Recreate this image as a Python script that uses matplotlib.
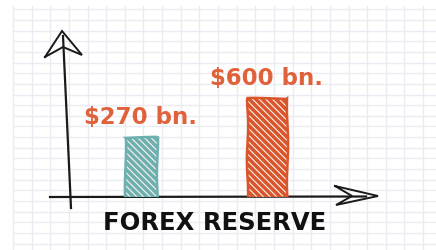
import numpy as np
import matplotlib
matplotlib.use("Agg")
import matplotlib.pyplot as plt
from matplotlib.lines import Line2D

# ---- data ----
categories = ["A", "B"]
values = [270, 600]                      # $ bn
labels = ["$270 bn.", "$600 bn."]
bar_colors = ["#6eafb0", "#d9552c"]
label_color = "#e0623a"
axis_title = "FOREX RESERVE"

plt.rcParams["hatch.linewidth"] = 0.8

W, H = 436, 250
fig = plt.figure(figsize=(W / 100, H / 100), dpi=100)
fig.patch.set_facecolor("white")

# background grid (graph paper) drawn in a full-figure axes
bg = fig.add_axes([0, 0, 1, 1])
bg.set_xlim(0, W)
bg.set_ylim(H, 0)
bg.axis("off")
grid_c = "#ebebf3"
for gx in np.arange(13, W, 18.64):
    bg.axvline(gx, ymin=0, ymax=1 - 6 / H, color=grid_c, lw=1.0, zorder=0)
for gy in np.arange(9.3, H, 10.65):
    bg.axhline(gy, xmin=13 / W, xmax=1, color=grid_c, lw=1.0, zorder=0)

# hand-drawn axes
axc = "#1a1a1a"
bg.add_line(Line2D([50, 366], [197, 196.5], color=axc, lw=1.6, zorder=5))
bg.add_line(Line2D([71, 63], [208, 36], color=axc, lw=1.6, zorder=5))
# open chevron arrowheads
bg.add_line(Line2D([45, 62, 82, 63, 45], [57, 31, 55, 47, 57], color=axc, lw=1.4,
                   solid_joinstyle="miter", zorder=5))
bg.add_line(Line2D([335, 378, 336, 352, 335], [186, 196, 205, 196, 186], color=axc, lw=1.4,
                   solid_joinstyle="miter", zorder=5))

bg.text(215, 223, axis_title, ha="center", va="center", fontsize=17.5,
        fontweight="heavy", family="DejaVu Sans", color="#111111")

# ---- bar chart axes ----
left_px, right_px, base_px, top_px = 70, 378, 197, 31
ax = fig.add_axes([left_px / W, (H - base_px) / H,
                   (right_px - left_px) / W, (base_px - top_px) / H])
ax.patch.set_alpha(0)
ax.axis("off")

p = 0.627
ax.set_yscale("function", functions=(lambda v: np.sign(v) * np.abs(v) ** p,
                                     lambda v: np.sign(v) * np.abs(v) ** (1 / p)))
x = np.arange(len(categories))
ax.set_xlim(-0.5635, 1.881)
ax.set_ylim(0, 1369)

widths = [0.26, 0.31]
for xi, v, c, w, lab in zip(x, values, bar_colors, widths, labels):
    ax.bar(xi, v, width=w, color=c, edgecolor="#fdf3ee", hatch="\\" * 5, linewidth=0, zorder=3)
    b = ax.bar(xi, v, width=w, fill=False, edgecolor=c, linewidth=1.8, zorder=4)
    for patch in b:
        patch.set_sketch_params(scale=0.6, length=80, randomness=2)
    ax.annotate(lab, (xi, v), xytext=(0, 14), textcoords="offset points",
                ha="center", va="center", fontsize=16.5, fontweight="bold",
                family="DejaVu Sans", color=label_color, zorder=6)

fig.savefig("out.png", dpi=100, facecolor="white")
